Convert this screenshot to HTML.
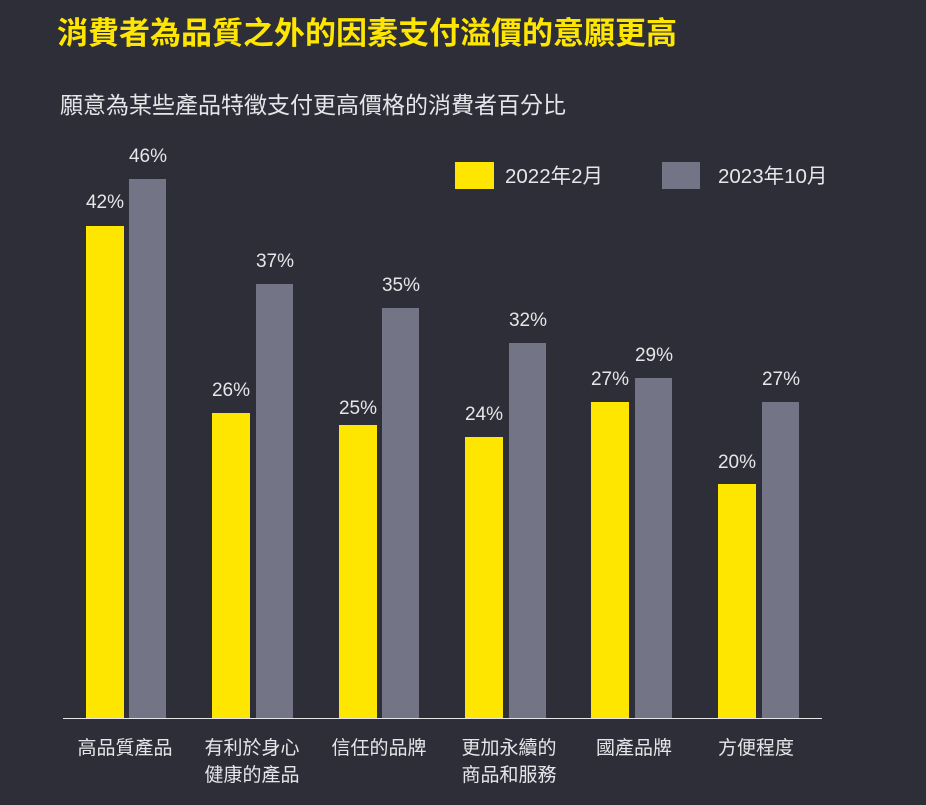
<!DOCTYPE html>
<html><head><meta charset="utf-8"><style>
body{margin:0;width:926px;height:800px;background:#2e2e38;overflow:hidden;font-family:"Liberation Sans","Noto Sans CJK TC",sans-serif;}
</style></head><body>
<svg width="926" height="800" xmlns="http://www.w3.org/2000/svg" style="font-family:'Liberation Sans','Noto Sans CJK TC',sans-serif">
<rect width="926" height="800" fill="#2e2e38"/>
<text x="57" y="44" fill="#ffe600" font-size="31" font-weight="bold">消費者為品質之外的因素支付溢價的意願更高</text>
<text x="60" y="113" fill="#e6e6ea" font-size="23">願意為某些產品特徵支付更高價格的消費者百分比</text>
<rect x="455" y="162" width="39" height="27" fill="#ffe600"/>
<text x="505" y="183" fill="#e6e6ea" font-size="20.5">2022年2月</text>
<rect x="662" y="162" width="38" height="27" fill="#747487"/>
<text x="718" y="183" fill="#e6e6ea" font-size="20.5">2023年10月</text>
<g fill="#ffe600">
<rect x="86" y="226" width="38" height="492"/>
<rect x="212" y="413" width="38" height="305"/>
<rect x="339" y="425" width="38" height="293"/>
<rect x="465" y="437" width="38" height="281"/>
<rect x="591" y="402" width="38" height="316"/>
<rect x="718" y="484" width="38" height="234"/>
</g>
<g fill="#747487">
<rect x="129" y="179" width="37" height="539"/>
<rect x="256" y="284" width="37" height="434"/>
<rect x="382" y="308" width="37" height="410"/>
<rect x="509" y="343" width="37" height="375"/>
<rect x="635" y="378" width="37" height="340"/>
<rect x="762" y="402" width="37" height="316"/>
</g>
<g fill="#e6e6ea" font-size="19" text-anchor="middle">
<text x="105" y="208">42%</text><text x="148" y="162">46%</text>
<text x="231" y="396">26%</text><text x="275" y="267">37%</text>
<text x="358" y="414">25%</text><text x="401" y="291">35%</text>
<text x="484" y="420">24%</text><text x="528" y="326">32%</text>
<text x="610" y="385">27%</text><text x="654" y="361">29%</text>
<text x="737" y="468">20%</text><text x="781" y="385">27%</text>
</g>
<line x1="63" y1="718.5" x2="822" y2="718.5" stroke="#e6e6ea" stroke-width="1"/>
<g fill="#e6e6ea" font-size="19" text-anchor="middle">
<text x="125" y="754">高品質產品</text>
<text x="252" y="754">有利於身心</text><text x="252" y="781">健康的產品</text>
<text x="379" y="754">信任的品牌</text>
<text x="509" y="754">更加永續的</text><text x="509" y="781">商品和服務</text>
<text x="634" y="754">國產品牌</text>
<text x="756" y="754">方便程度</text>
</g>
</svg>
</body></html>
